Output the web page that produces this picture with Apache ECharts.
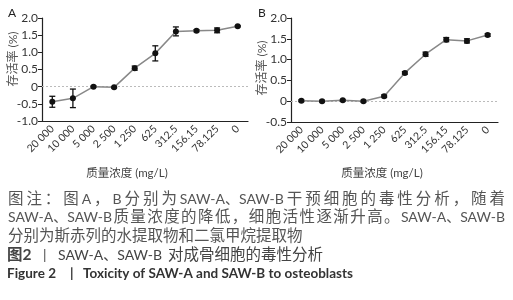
<!DOCTYPE html>
<html>
<head>
<meta charset="utf-8">
<script src="https://cdn.jsdelivr.net/npm/echarts@6/dist/echarts.min.js"></script>
<style>
  html, body { margin: 0; padding: 0; background: #fff; }
  #main { width: 513px; height: 300px; }
</style>
</head>
<body>
<div id="main"></div>
<script>
// 数据
var categories = ['20 000', '10 000', '5 000', '2 500', '1 250', '625', '312.5', '156.15', '78.125', '0'];
var meanA = [-0.44, -0.34, 0.0, -0.02, 0.54, 0.97, 1.61, 1.63, 1.64, 1.76];
var errA  = [0.16, 0.27, 0.02, 0.02, 0.06, 0.22, 0.13, 0.03, 0.07, 0.02];
var meanB = [0.01, 0.0, 0.02, 0.0, 0.12, 0.68, 1.13, 1.48, 1.45, 1.59];
var errB  = [0.02, 0.02, 0.02, 0.02, 0.03, 0.03, 0.05, 0.05, 0.05, 0.03];
var yRangeA = [-1, 2];
var yRangeB = [-0.5, 2];
var yStep = 0.5;

var captionLines = [
  '图注：图 A，B 分别为 SAW-A、SAW-B 干预细胞的毒性分析，随着',
  'SAW-A、SAW-B 质量浓度的降低，细胞活性逐渐升高。SAW-A、SAW-B',
  '分别为斯赤列的水提取物和二氯甲烷提取物'
];
var figTitleCn = '对成骨细胞的毒性分析';
var figTitleEn = 'Toxicity of SAW-A and SAW-B to osteoblasts';

var FAMILY = 'Lato, "Noto Sans CJK SC", sans-serif';
var chart = echarts.init(document.getElementById('main'));

function txt(text, size, color, extra) {
  var s = { text: text, fontSize: size, fontFamily: FAMILY, fill: color };
  for (var k in extra) s[k] = extra[k];
  return s;
}

var CJK = 15.5, LAT = 14;
var ctx = document.createElement('canvas').getContext('2d');
function measure(t, size, weight) {
  ctx.font = (weight || 'normal') + ' ' + size + 'px ' + FAMILY;
  return ctx.measureText(t).width;
}
function sizeOf(t) { return /[A-Za-z0-9]/.test(t) ? LAT : CJK; }

// 两端对齐的文字
function justify(text, x0, x1, yc, color) {
  var tokens = text.match(/SAW-A、SAW-B|[A-Za-z0-9\-]+|\S/g);
  var widths = tokens.map(function (t) { return measure(t, sizeOf(t)); });
  var total = widths.reduce(function (a, b) { return a + b; }, 0);
  var gap = (x1 - x0 - total) / (tokens.length - 1);
  var x = x0, out = [];
  tokens.forEach(function (t, i) {
    out.push({ type: 'text', x: x, y: yc, style: txt(t, sizeOf(t), color, { verticalAlign: 'middle' }) });
    x += widths[i] + gap;
  });
  return out;
}

function errorBars(means, errs, idx) {
  return {
    type: 'custom', xAxisIndex: idx, yAxisIndex: idx, z: 5, silent: true,
    data: means.map(function (m, i) { return [i, m - errs[i], m + errs[i]]; }),
    renderItem: function (params, api) {
      var lo = api.coord([api.value(0), api.value(1)]);
      var hi = api.coord([api.value(0), api.value(2)]);
      var w = 3, st = { stroke: '#111', lineWidth: 1.3 };
      return { type: 'group', children: [
        { type: 'line', shape: { x1: lo[0], y1: lo[1], x2: hi[0], y2: hi[1] }, style: st },
        { type: 'line', shape: { x1: lo[0] - w, y1: lo[1], x2: lo[0] + w, y2: lo[1] }, style: st },
        { type: 'line', shape: { x1: hi[0] - w, y1: hi[1], x2: hi[0] + w, y2: hi[1] }, style: st }
      ]};
    }
  };
}

function lineSeries(data, idx) {
  return {
    type: 'line', xAxisIndex: idx, yAxisIndex: idx, data: data,
    symbol: 'circle', symbolSize: 6, z: 6,
    lineStyle: { color: '#888', width: 1.5 },
    itemStyle: { color: '#111' },
    markLine: {
      silent: true, symbol: 'none', label: { show: false },
      lineStyle: { color: '#bbb', type: [2, 2], width: 1 },
      data: [{ yAxis: 0 }]
    }
  };
}

function xAx(idx) {
  return {
    type: 'category', gridIndex: idx, data: categories, position: 'bottom',
    axisLine: { onZero: false, lineStyle: { color: '#222', width: 1.2 } },
    axisTick: { alignWithLabel: true, length: 4, lineStyle: { color: '#222' } },
    axisLabel: { rotate: 45, fontSize: 10.5, color: '#333', fontFamily: FAMILY, margin: 6 }
  };
}

function yAx(idx, range) {
  return {
    type: 'value', gridIndex: idx, min: range[0], max: range[1], interval: yStep,
    splitLine: { show: false },
    axisLine: { show: true, lineStyle: { color: '#222', width: 1.2 } },
    axisTick: { show: true, length: 4, lineStyle: { color: '#222' } },
    axisLabel: {
      fontSize: 12, color: '#333', fontFamily: FAMILY, margin: 4,
      formatter: function (v) { return v === 0 ? '0' : v.toFixed(1); }
    }
  };
}

var option = {
  animation: false,
  grid: [
    { left: 42, top: 18, width: 206, height: 103 },
    { left: 291, top: 18, width: 207, height: 104 }
  ],
  xAxis: [xAx(0), xAx(1)],
  yAxis: [yAx(0, yRangeA), yAx(1, yRangeB)],
  series: [
    lineSeries(meanA, 0), errorBars(meanA, errA, 0),
    lineSeries(meanB, 1), errorBars(meanB, errB, 1)
  ],
  graphic: [
    { type: 'text', x: 8, y: 13, style: txt('A', 12, '#222', { verticalAlign: 'middle' }) },
    { type: 'text', x: 258, y: 13, style: txt('B', 12, '#222', { verticalAlign: 'middle' }) },
    { type: 'text', x: 13, y: 59, rotation: Math.PI / 2, style: txt('存活率 (%)', 12, '#555', { align: 'center', verticalAlign: 'middle' }) },
    { type: 'text', x: 262, y: 68, rotation: Math.PI / 2, style: txt('存活率 (%)', 12, '#555', { align: 'center', verticalAlign: 'middle' }) },
    { type: 'text', x: 127, y: 173, style: txt('质量浓度 (mg/L)', 11.5, '#444', { align: 'center', verticalAlign: 'middle' }) },
    { type: 'text', x: 382, y: 173, style: txt('质量浓度 (mg/L)', 11.5, '#444', { align: 'center', verticalAlign: 'middle' }) }
  ]
    .concat(justify(captionLines[0], 8, 505, 199, '#555'))
    .concat(justify(captionLines[1], 8, 505, 217, '#555'))
    .concat([
      { type: 'text', x: 8, y: 236, style: txt(captionLines[2], CJK, '#555', { verticalAlign: 'middle' }) },
      { type: 'text', x: 7, y: 255, style: txt('图2', CJK, '#444', { verticalAlign: 'middle', fontWeight: 'bold' }) },
      { type: 'text', x: 43, y: 255, style: txt('|', 14, '#444', { verticalAlign: 'middle' }) },
      { type: 'text', x: 58, y: 255, style: txt('SAW-A、SAW-B', LAT, '#444', { verticalAlign: 'middle' }) },
      { type: 'text', x: 168, y: 255, style: txt(figTitleCn, CJK, '#444', { verticalAlign: 'middle' }) },
      { type: 'text', x: 7, y: 274, style: txt('Figure 2', 13.5, '#333', { verticalAlign: 'middle', fontWeight: 'bold' }) },
      { type: 'text', x: 70, y: 274, style: txt('|', 13.5, '#333', { verticalAlign: 'middle', fontWeight: 'bold' }) },
      { type: 'text', x: 83, y: 274, style: txt(figTitleEn, 13.5, '#333', { verticalAlign: 'middle', fontWeight: 'bold' }) }
    ])
};
chart.setOption(option);
</script>
</body>
</html>
